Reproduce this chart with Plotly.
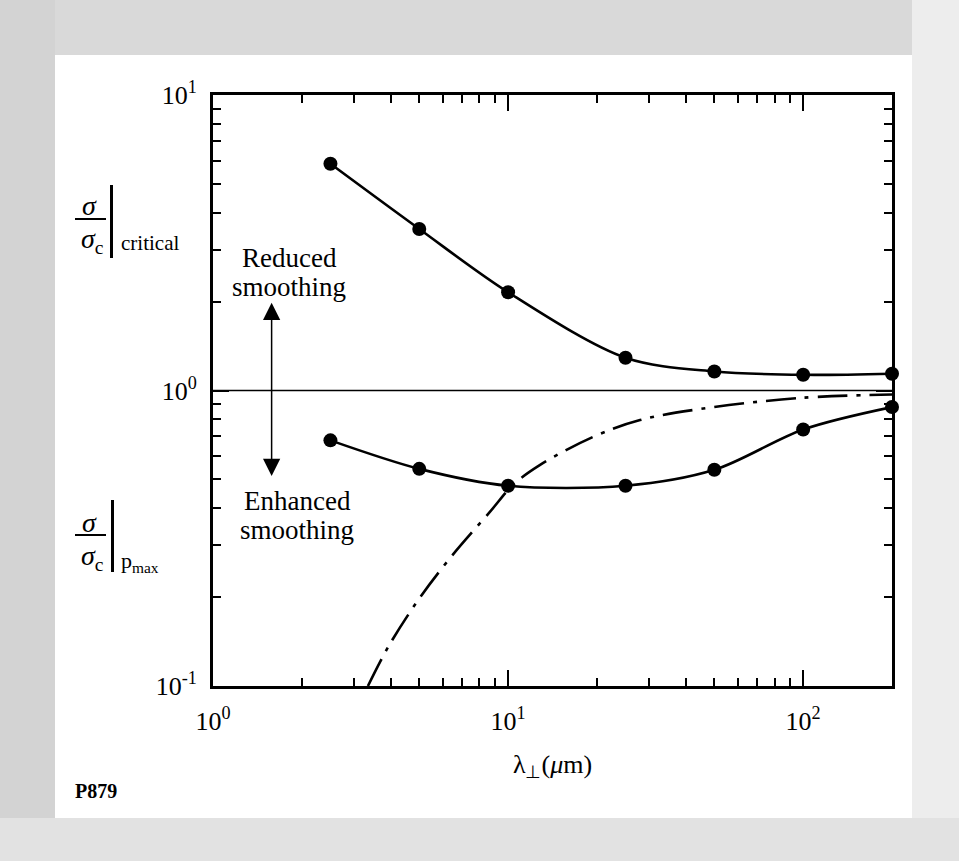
import math
import plotly.graph_objects as go

# ---------------- data ----------------
wavelength_um = [2.5, 5, 10, 25, 50, 100, 200]
critical_ratio = [5.85, 3.52, 2.15, 1.29, 1.16, 1.13, 1.14]
pmax_ratio = [0.678, 0.543, 0.476, 0.476, 0.539, 0.738, 0.879]

dashdot_x = [3.35, 3.93, 4.97, 6.36, 8.69, 10.4, 12.8, 19.5, 28.0, 44.8, 98, 200]
dashdot_y = [0.1, 0.136, 0.196, 0.271, 0.389, 0.479, 0.559, 0.698, 0.794, 0.866, 0.944, 0.969]

reference_level = 1.0
x_range = [1, 200]
y_range = [0.1, 10]

x_tickvals = [1, 10, 100]
x_ticktext = ["10<sup>0</sup>", "10<sup>1</sup>", "10<sup>2</sup>"]
y_tickvals = [0.1, 1, 10]
y_ticktext = ["10<sup>-1</sup>", "10<sup>0</sup>", "10<sup>1</sup>"]

# arrow (data coordinates)
arrow_x = 1.58
arrow_top = 1.98
arrow_bottom = 0.508

# ---------------- layout geometry ----------------
W, H = 959, 861
L, R, T, B = 213, 892, 95, 686
PW, PH = R - L, B - T
FONT = "Liberation Serif"


def px(x):
    return (x - L) / PW


def py(y):
    return (B - y) / PH


fig = go.Figure()

fig.add_trace(go.Scatter(
    x=x_range, y=[reference_level, reference_level], mode="lines",
    line=dict(color="black", width=1.6), showlegend=False, hoverinfo="skip"))

fig.add_trace(go.Scatter(
    x=dashdot_x, y=dashdot_y, mode="lines",
    line=dict(color="black", width=2.6, dash="30px,9px,4px,9px",
              shape="spline", smoothing=1.0),
    showlegend=False))

fig.add_trace(go.Scatter(
    x=wavelength_um, y=critical_ratio, mode="lines+markers",
    line=dict(color="black", width=2.6, shape="spline", smoothing=0.9),
    marker=dict(color="black", size=14),
    showlegend=False, cliponaxis=False))

fig.add_trace(go.Scatter(
    x=wavelength_um, y=pmax_ratio, mode="lines+markers",
    line=dict(color="black", width=2.6, shape="spline", smoothing=0.9),
    marker=dict(color="black", size=14),
    showlegend=False, cliponaxis=False))

minor_x = [m * d for d in (1, 10, 100) for m in range(2, 10) if m * d < 200]
minor_y = [m * d for d in (0.1, 1) for m in range(2, 10)]

axis_common = dict(
    showline=True, linecolor="black", linewidth=3, mirror="ticks",
    ticks="inside", ticklen=16, tickwidth=2, tickcolor="black",
    showgrid=False, zeroline=False, tickmode="array",
    tickfont=dict(family=FONT, size=26, color="black"),
)

fig.update_xaxes(
    type="log", range=[math.log10(x_range[0]), math.log10(x_range[1])],
    tickvals=x_tickvals, ticktext=x_ticktext,
    minor=dict(tickvals=minor_x, ticks="inside", ticklen=8, tickwidth=2,
               tickcolor="black", showgrid=False),
    ticklabelstandoff=10,
    title=dict(text="λ<sub>⊥</sub>(<i>μ</i>m)",
               font=dict(family=FONT, size=26, color="black"), standoff=20),
    **axis_common)

fig.update_yaxes(
    type="log", range=[math.log10(y_range[0]), math.log10(y_range[1])],
    tickvals=y_tickvals, ticktext=y_ticktext,
    minor=dict(tickvals=minor_y, ticks="inside", ticklen=8, tickwidth=2,
               tickcolor="black", showgrid=False),
    ticklabelstandoff=8,
    **axis_common)

annotations = []


def txt(text, x, y, size=25, xanchor="center", yanchor="middle"):
    annotations.append(dict(
        text=text, x=px(x), y=py(y), xref="paper", yref="paper",
        showarrow=False, xanchor=xanchor, yanchor=yanchor,
        font=dict(family=FONT, size=size, color="black")))


# region labels
txt("Reduced", 289, 258, size=27)
txt("smoothing", 289, 287, size=27)
txt("Enhanced", 297, 501, size=27)
txt("smoothing", 297, 530, size=27)

# left labels: sigma / sigma_c | critical
txt("<i>σ</i>", 89, 205, size=28)
txt("<i>σ</i><sub>c</sub>", 93, 240, size=28)
txt("critical", 119, 243, size=21, xanchor="left")

txt("<i>σ</i>", 89, 522, size=28)
txt("<i>σ</i><sub>c</sub>", 93, 557, size=28)
txt("p<sub>max</sub>", 119, 562, size=22, xanchor="left")

txt("<b>P879</b>", 96, 791, size=20)

# double-headed arrow
annotations.append(dict(
    x=math.log10(arrow_x), y=math.log10(arrow_top),
    ax=math.log10(arrow_x), ay=math.log10(arrow_bottom),
    xref="x", yref="y", axref="x", ayref="y",
    showarrow=True, arrowhead=2, startarrowhead=2, arrowside="end+start",
    arrowwidth=1.5, arrowsize=2.3, startarrowsize=2.3, arrowcolor="black",
    text=""))

shapes = [
    # scanned paper border (gray dithered bands)
    dict(type="rect", xref="paper", yref="paper", x0=px(0), x1=px(W), y0=py(0), y1=py(55),
         fillcolor="#d9d9d9", line=dict(width=0), layer="below"),
    dict(type="rect", xref="paper", yref="paper", x0=px(0), x1=px(55), y0=py(0), y1=py(H),
         fillcolor="#d3d3d3", line=dict(width=0), layer="below"),
    dict(type="rect", xref="paper", yref="paper", x0=px(912), x1=px(W), y0=py(0), y1=py(H),
         fillcolor="#ededed", line=dict(width=0), layer="below"),
    dict(type="rect", xref="paper", yref="paper", x0=px(0), x1=px(W), y0=py(818), y1=py(H),
         fillcolor="#e2e2e2", line=dict(width=0), layer="below"),
    # fraction bars and evaluation bars
    dict(type="line", xref="paper", yref="paper", x0=px(75), x1=px(106), y0=py(219), y1=py(219),
         line=dict(color="black", width=2)),
    dict(type="line", xref="paper", yref="paper", x0=px(111.5), x1=px(111.5), y0=py(185), y1=py(258),
         line=dict(color="black", width=3)),
    dict(type="line", xref="paper", yref="paper", x0=px(75), x1=px(106), y0=py(535), y1=py(535),
         line=dict(color="black", width=2)),
    dict(type="line", xref="paper", yref="paper", x0=px(112.5), x1=px(112.5), y0=py(500), y1=py(572),
         line=dict(color="black", width=3)),
]

fig.update_layout(
    width=W, height=H,
    margin=dict(l=L, r=W - R, t=T, b=H - B, autoexpand=False),
    paper_bgcolor="white", plot_bgcolor="white",
    font=dict(family=FONT, color="black"),
    annotations=annotations, shapes=shapes,
    showlegend=False,
)

fig.write_html(
    "out.html",
    config={"displayModeBar": False},
    post_script="document.body.style.margin='0px';document.body.style.overflow='hidden';",
)
